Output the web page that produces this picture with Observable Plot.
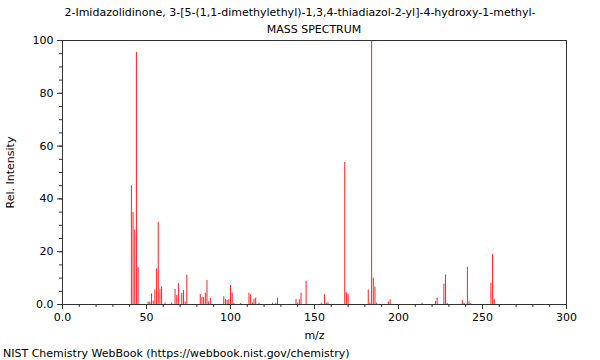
<!DOCTYPE html>
<html>
<head>
<meta charset="utf-8">
<script src="https://cdn.jsdelivr.net/npm/d3@7"></script>
<script src="https://cdn.jsdelivr.net/npm/@observablehq/plot@0.6"></script>
<style>
  html, body { margin: 0; padding: 0; background: #fff; }
  #wrap { position: relative; width: 600px; height: 360px; font-family: "DejaVu Sans", sans-serif; color: #000; }
  .t { position: absolute; font-size: 11px; white-space: nowrap; }
</style>
</head>
<body>
<div id="wrap">
  <div id="chart"></div>
  <div class="t" id="title1" style="left:0;width:600px;text-align:center;top:6px;">2-Imidazolidinone, 3-[5-(1,1-dimethylethyl)-1,3,4-thiadiazol-2-yl]-4-hydroxy-1-methyl-</div>
  <div class="t" id="title2" style="left:62px;width:504px;text-align:center;top:23px;">MASS SPECTRUM</div>
  <div class="t" id="caption" style="left:3px;top:347px;">NIST Chemistry WebBook (https://webbook.nist.gov/chemistry)</div>
</div>
<script>
const mz = [41,42,43,44,45,51,52,53,54,55,56,57,58,59,61,65,67,68,69,71,72,73,74,82,83,84,85,86,87,88,96,97,98,99,100,101,102,106,111,112,113,114,115,117,125,127,128,139,140,141,142,145,154,156,157,158,168,169,170,182,183,184,185,186,187,194,195,214,222,223,227,228,229,238,239,241,242,243,255,256,257];
const intensity = [45,34.8,28.2,95.5,14,0.9,0.9,4,1.3,5.5,13.5,31.1,5.7,6.7,0.6,0.6,5.7,3.4,7.9,4.2,5.3,1,11.1,3.8,2.6,2.6,4.3,9.1,1,2.3,2.9,1.9,1.5,1.8,7.2,4.3,0.4,0.4,4.3,3.7,0.6,2,2.4,0.5,0.5,0.5,2.4,1.9,0.5,1.8,4.3,8.8,0.5,3.7,0.5,0.6,53.8,4.4,3.8,5.5,0.6,100,10,6.6,0.5,0.9,1.8,0.5,1.1,2.4,7.7,11.2,0.4,1.5,0.5,14.1,1,0.4,8.1,19,1.8];
const xMajor = [0,50,100,150,200,250,300];
const xMinor = d3.range(0, 301, 10);
const yMajor = [0,20,40,60,80,100];
const yMinor = d3.range(0, 101, 5);

const data = mz.map((m, i) => ({mz: m, y: intensity[i]}));
const fmt = d => d === 0 ? "0.0" : String(d);

const chart = Plot.plot({
  width: 600,
  height: 360,
  marginLeft: 62,
  marginRight: 34,
  marginTop: 40,
  marginBottom: 56,
  style: {fontFamily: "DejaVu Sans, sans-serif", fontSize: "11px", color: "#000", background: "#fff"},
  x: {domain: [0, 300]},
  y: {domain: [0, 100]},
  marks: [
    Plot.axisX({ticks: xMinor, tickSize: 3, text: null, label: null, stroke: "#333"}),
    Plot.axisX({ticks: xMajor, tickSize: 5, tickPadding: 4, tickFormat: fmt, label: "m/z", labelAnchor: "center", labelArrow: "none", labelOffset: 34, stroke: "#333"}),
    Plot.axisY({ticks: yMinor, tickSize: 3, text: null, label: null, stroke: "#333"}),
    Plot.axisY({ticks: yMajor, tickSize: 5, tickPadding: 4, tickFormat: fmt, label: "Rel. Intensity", labelAnchor: "center", labelArrow: "none", labelOffset: 56, stroke: "#333"}),
    Plot.ruleX(data, {x: "mz", y1: 0, y2: "y", stroke: "#ff2020", strokeWidth: 1}),
    Plot.frame({stroke: "#333"})
  ]
});
document.getElementById("chart").appendChild(chart);
</script>
</body>
</html>
